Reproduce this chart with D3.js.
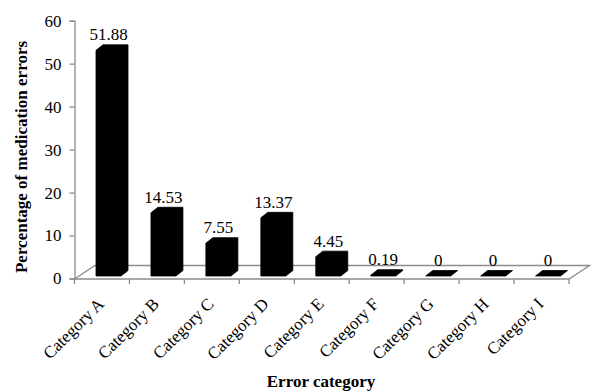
<!DOCTYPE html>
<html>
<head>
<meta charset="utf-8">
<script src="https://cdn.jsdelivr.net/npm/d3@7"></script>
<style>
  html, body { margin: 0; padding: 0; background: #fff; }
  svg { display: block; }
  text { font-family: "Times New Roman", "Liberation Serif", serif; fill: #000; }
</style>
</head>
<body>
<svg id="chart" width="591" height="392"></svg>
<script>
// Share of medication errors by category (%)
const categories = ["Category A", "Category B", "Category C", "Category D", "Category E",
                    "Category F", "Category G", "Category H", "Category I"];
const percentages = [51.88, 14.53, 7.55, 13.37, 4.45, 0.19, 0, 0, 0];
const valueLabels = ["51.88", "14.53", "7.55", "13.37", "4.45", "0.19", "0", "0", "0"];
const yTicks = [0, 10, 20, 30, 40, 50, 60];

const svg = d3.select("#chart");
const axisColor = "#8c8c8c";
const serif = "'Times New Roman', 'Liberation Serif', serif";

// Plot frame: front-left corner of the floor and its depth offset
const left = 74.5, right = 569, floorY = 279;
const depth = { dx: 20.5, dy: -13.5 };
// Column prism depth
const col = { dx: 7, dy: -5.5, inset: 21.5, width: 25, baseY: 276 };

const x = d3.scaleBand().domain(categories).range([left, right]).paddingInner(0).paddingOuter(0);
// Value axis drawn on the front plane
const yAxisScale = d3.scaleLinear().domain([0, 60]).range([278.5, 20.7]);
// Columns sit slightly further in, where the projection is a little taller
const yBar = d3.scaleLinear().domain([0, 60]).range([col.baseY, col.baseY - 60 * 4.35]);

// Floor
svg.append("path")
  .attr("d", `M${left},${floorY} L${right},${floorY} L${right + depth.dx},${floorY + depth.dy} L${left + depth.dx},${floorY + depth.dy} Z`)
  .attr("fill", "#fff")
  .attr("stroke", axisColor)
  .attr("stroke-width", 1.3);

// Category axis ticks
const xTickPos = categories.map(c => x(c)).concat([right]);
svg.append("g").selectAll("line").data(xTickPos).join("line")
  .attr("x1", d => d).attr("x2", d => d)
  .attr("y1", floorY).attr("y2", floorY + 5)
  .attr("stroke", axisColor).attr("stroke-width", 1.3);

// Value axis
const yAxis = d3.axisLeft(yAxisScale).tickValues(yTicks).tickSize(5).tickPadding(8).tickFormat(d3.format("d"));
const gY = svg.append("g").attr("transform", `translate(${left},0)`).call(yAxis);
gY.select(".domain").attr("stroke", axisColor).attr("stroke-width", 1.3);
gY.selectAll(".tick line").attr("stroke", axisColor).attr("stroke-width", 1.3);
gY.selectAll(".tick text")
  .attr("font-family", serif)
  .attr("font-size", 17).attr("fill", "#000");

// Columns: front face, top and right side merged into one black prism outline
function prism(i) {
  const x0 = x(categories[i]) + col.inset;
  const x1 = x0 + col.width;
  const yb = col.baseY;
  const yt = yBar(percentages[i]);
  const { dx, dy } = col;
  return `M${x0},${yb} L${x0},${yt} L${x0 + dx},${yt + dy} L${x1 + dx},${yt + dy} L${x1 + dx},${yb + dy} L${x1},${yb} Z`;
}
svg.append("g").selectAll("path").data(percentages).join("path")
  .attr("d", (d, i) => prism(i))
  .attr("fill", "#000")
  .attr("stroke", "#000")
  .attr("stroke-width", 0.8)
  .attr("stroke-linejoin", "round");

// Value labels above each column
svg.append("g").selectAll("text").data(percentages).join("text")
  .attr("x", (d, i) => x(categories[i]) + col.inset + col.width / 2)
  .attr("y", d => yBar(d) + col.dy - 4.5)
  .attr("text-anchor", "middle")
  .attr("font-size", 17)
  .text((d, i) => valueLabels[i]);

// Category labels, slanted
svg.append("g").selectAll("text").data(categories).join("text")
  .attr("transform", c => `translate(${x(c) + x.bandwidth() / 2 + 3},${305}) rotate(-45)`)
  .attr("text-anchor", "end")
  .attr("font-size", 17)
  .text(c => c);

// Axis titles
svg.append("text")
  .attr("transform", "translate(27,157) rotate(-90)")
  .attr("text-anchor", "middle")
  .attr("font-size", 17)
  .attr("font-weight", "bold")
  .text("Percentage of medication errors");

svg.append("text")
  .attr("x", 321).attr("y", 387)
  .attr("text-anchor", "middle")
  .attr("font-size", 17)
  .attr("font-weight", "bold")
  .text("Error category");
</script>
</body>
</html>
